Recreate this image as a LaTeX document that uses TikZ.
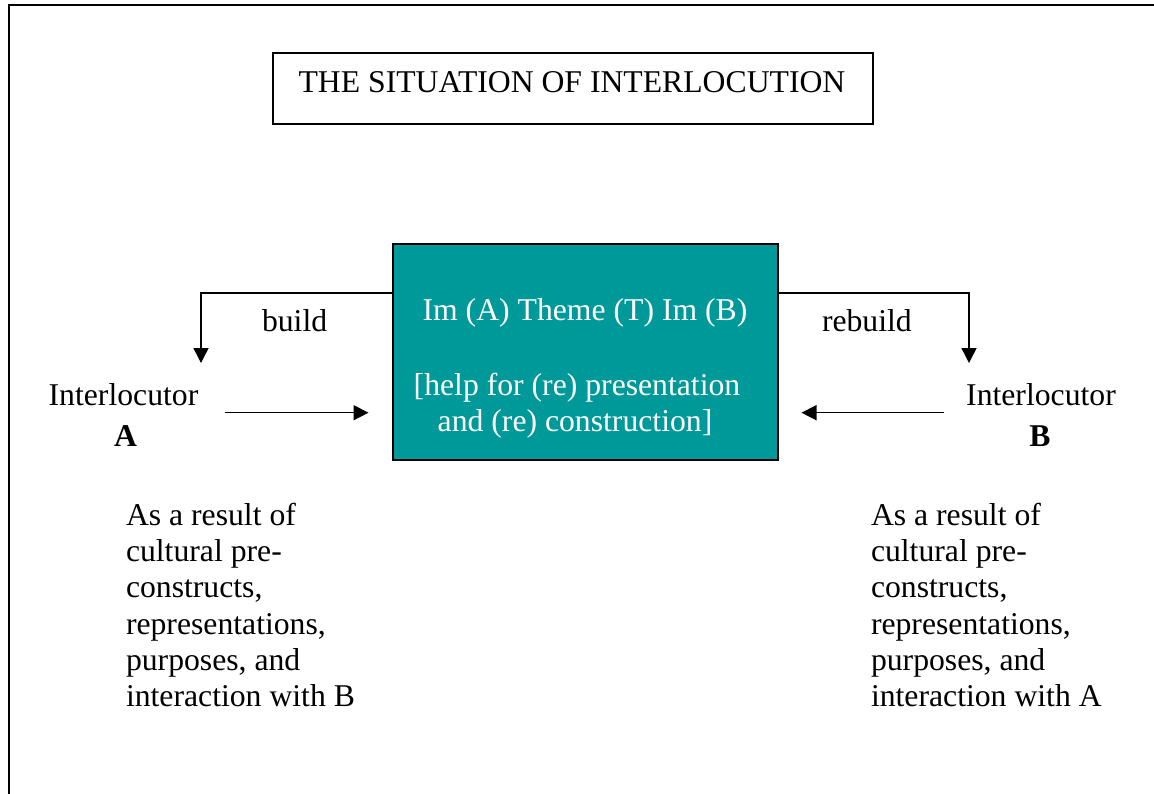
\documentclass[tikz,border=0pt]{standalone}
\usepackage{fontspec}
\setmainfont{Liberation Serif}
\usetikzlibrary{arrows.meta}
\definecolor{coreteal}{HTML}{009999}
\begin{document}
\begin{tikzpicture}[x=1pt,y=-1pt,
  every node/.style={inner sep=0pt,outer sep=0pt,font=\fontsize{31.7}{36.3}\selectfont},
  txt/.style={anchor=base},
  txtl/.style={anchor=base west},
  para/.style={anchor=base west,align=left},
  boxline/.style={line width=1.5pt},
  conn/.style={line width=1.5pt,-{Triangle[width=15pt,length=15pt]}}]
\useasboundingbox (0,0) rectangle (1154,793);
% outer frame: only its top and left edges fall inside the page
\draw[line width=2.2pt] (9,800) -- (9,5) -- (1160,5);

% title
\node[draw,boxline,minimum width=600pt,minimum height=71pt] (title) at (573,88.5) {};
\node[txt] (titletext) at (572,92.7) {THE SITUATION OF INTERLOCUTION};

% central box
\node[draw,fill=coreteal,line width=2pt,minimum width=385pt,minimum height=216pt] (core) at (585,352.3) {};
\node[txt,text=white] (coreA) at (585,320.7) {Im (A) Theme (T) Im (B)};
\node[txt,text=white] (coreB) at (577,395) {[help for (re) presentation};
\node[txt,text=white] (coreC) at (575,431.7) {and (re) construction]};

% interlocutors
\node[txt] (intA) at (123.5,405) {Interlocutor};
\node[txt] (letA) at (125.5,446) {\bfseries A};
\node[txt] (intB) at (1041,405) {Interlocutor};
\node[txt] (letB) at (1040,446) {\bfseries B};

% descriptions (base anchor sits on the last line)
\node[para] (descA) at (126,706.7) {As a result of\\cultural pre-\\constructs,\\representations,\\purposes, and\\interaction with B};
\node[para] (descB) at (871,706.7) {As a result of\\cultural pre-\\constructs,\\representations,\\purposes, and\\interaction with A};

% connector labels
\node[txtl] (lblbuild) at (262,331.7) {build};
\node[txtl] (lblrebuild) at (822,331.7) {rebuild};

% connector end points
\coordinate (buildtip) at (201,363);
\coordinate (rebuildtip) at (969,363);
\coordinate (outA) at (225,412.7);
\coordinate (inA) at (368.5,412.7);
\coordinate (outB) at (943.5,412.7);
\coordinate (inB) at (801.5,412.7);

\draw[conn] ([yshift=-48.5pt]core.north west) -| (buildtip);
\draw[conn] ([yshift=-48.5pt]core.north east) -| (rebuildtip);
\draw[conn] (outA) -- (inA);
\draw[conn] (outB) -- (inB);
\end{tikzpicture}
\end{document}
